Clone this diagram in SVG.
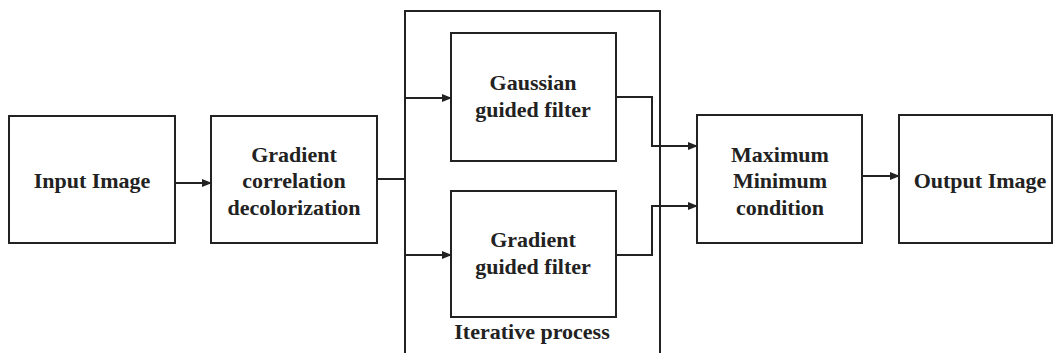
<svg xmlns="http://www.w3.org/2000/svg" width="1054" height="353" viewBox="0 0 1054 353">
  <style>
    .box { fill: #fff; stroke: #222; stroke-width: 2; }
    .wire { fill: none; stroke: #222; stroke-width: 2; }
    .lbl { font-family: "Liberation Serif", "Times New Roman", serif; font-weight: bold; font-size: 22px; fill: #222; text-anchor: middle; }
  </style>
  <defs>
    <marker id="arrow" markerWidth="10" markerHeight="8" refX="9" refY="4" orient="auto" markerUnits="userSpaceOnUse">
      <path d="M0,0 L10,4 L0,8 Z" fill="#222"/>
    </marker>
  </defs>
  <rect width="1054" height="353" fill="#fff"/>

  <g id="iterative">
    <path class="wire" d="M405,353 V11 H660 V353"/>
    <text class="lbl" x="532" y="339">Iterative process</text>
  </g>

  <g id="input">
    <rect class="box" x="9" y="116" width="166" height="127"/>
    <text class="lbl" x="92" y="188">Input Image</text>
  </g>

  <g id="decolor">
    <rect class="box" x="211" y="116" width="166" height="127"/>
    <text class="lbl" x="294" y="162">Gradient</text>
    <text class="lbl" x="294" y="188">correlation</text>
    <text class="lbl" x="294" y="215">decolorization</text>
  </g>

  <g id="gaussian">
    <rect class="box" x="451" y="33" width="165" height="128"/>
    <text class="lbl" x="533" y="90">Gaussian</text>
    <text class="lbl" x="533" y="117">guided filter</text>
  </g>

  <g id="gradient">
    <rect class="box" x="451" y="191" width="165" height="126"/>
    <text class="lbl" x="533" y="247">Gradient</text>
    <text class="lbl" x="533" y="274">guided filter</text>
  </g>

  <g id="maxmin">
    <rect class="box" x="697" y="115" width="165" height="128"/>
    <text class="lbl" x="780" y="162">Maximum</text>
    <text class="lbl" x="780" y="188">Minimum</text>
    <text class="lbl" x="780" y="215">condition</text>
  </g>

  <g id="output">
    <rect class="box" x="899" y="115" width="153" height="128"/>
    <text class="lbl" x="980" y="188">Output Image</text>
  </g>

  <g id="connectors">
    <path class="wire" d="M175,183 H211" marker-end="url(#arrow)"/>
    <path class="wire" d="M377,179 H405"/>
    <path class="wire" d="M405,98 H451" marker-end="url(#arrow)"/>
    <path class="wire" d="M405,255 H451" marker-end="url(#arrow)"/>
    <path class="wire" d="M616,97 H652 V146 H697" marker-end="url(#arrow)"/>
    <path class="wire" d="M616,255 H652 V206 H697" marker-end="url(#arrow)"/>
    <path class="wire" d="M862,176 H899" marker-end="url(#arrow)"/>
  </g>
</svg>
